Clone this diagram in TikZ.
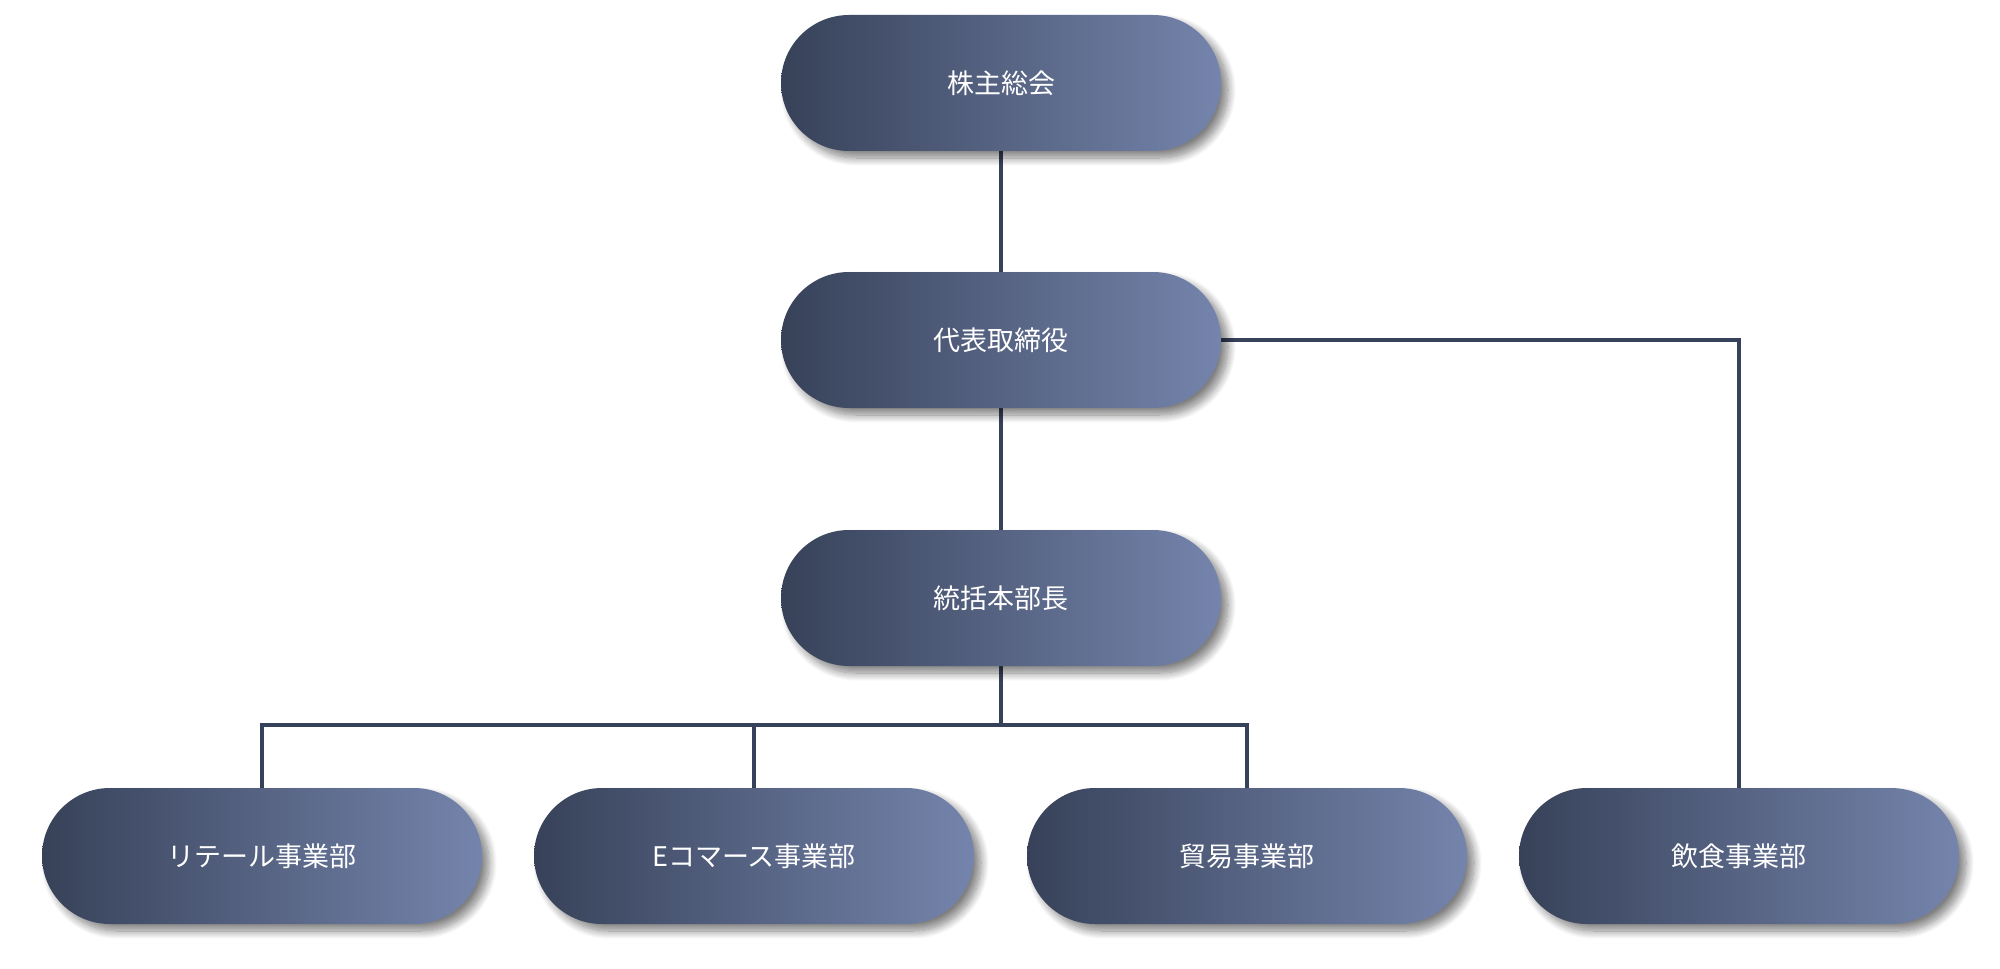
\documentclass[tikz,border=0pt]{standalone}
\usepackage{fontspec}
\newfontfamily\jp{Noto Sans CJK JP}
\usetikzlibrary{shadows.blur,backgrounds}
\definecolor{gradL}{HTML}{374259}
\definecolor{gradR}{HTML}{7584AC}
\definecolor{linec}{HTML}{36415A}
\tikzset{
  orgbox/.style={rectangle, rounded corners=34pt, minimum width=220pt, minimum height=68pt,
    inner sep=0pt, left color=gradL, right color=gradR, draw=none, text=white,
    font=\jp\fontsize{13.5pt}{15pt}\selectfont,
    blur shadow={shadow xshift=3.5pt, shadow yshift=-3.5pt, shadow blur radius=4pt, shadow blur steps=12, shadow opacity=50}},
  conn/.style={draw=linec, line width=1.7pt}
}
\begin{document}
\begin{tikzpicture}[x=0.5pt,y=-0.5pt]
\useasboundingbox (0,0) rectangle (2000,968);
\node[orgbox] (n1) at (1001,83) {株主総会};
\node[orgbox] (n2) at (1001,340) {代表取締役};
\node[orgbox] (n3) at (1001,598) {統括本部長};
\node[orgbox] (b1) at (262,856) {リテール事業部};
\node[orgbox] (b2) at (754,856) {Eコマース事業部};
\node[orgbox] (b3) at (1247,856) {貿易事業部};
\node[orgbox] (b4) at (1739,856) {飲食事業部};
\coordinate (bus) at (1001,725);
\begin{scope}[on background layer]
\draw[conn] (n1.south) -- (n2.north);
\draw[conn] (n2.south) -- (n3.north);
\draw[conn] (n3.south) -- (bus);
\draw[conn] (bus) -| (b1.north);
\draw[conn] (bus) -| (b2.north);
\draw[conn] (bus) -| (b3.north);
\draw[conn] (n2.east) -| (b4.north);
\end{scope}
\end{tikzpicture}
\end{document}
